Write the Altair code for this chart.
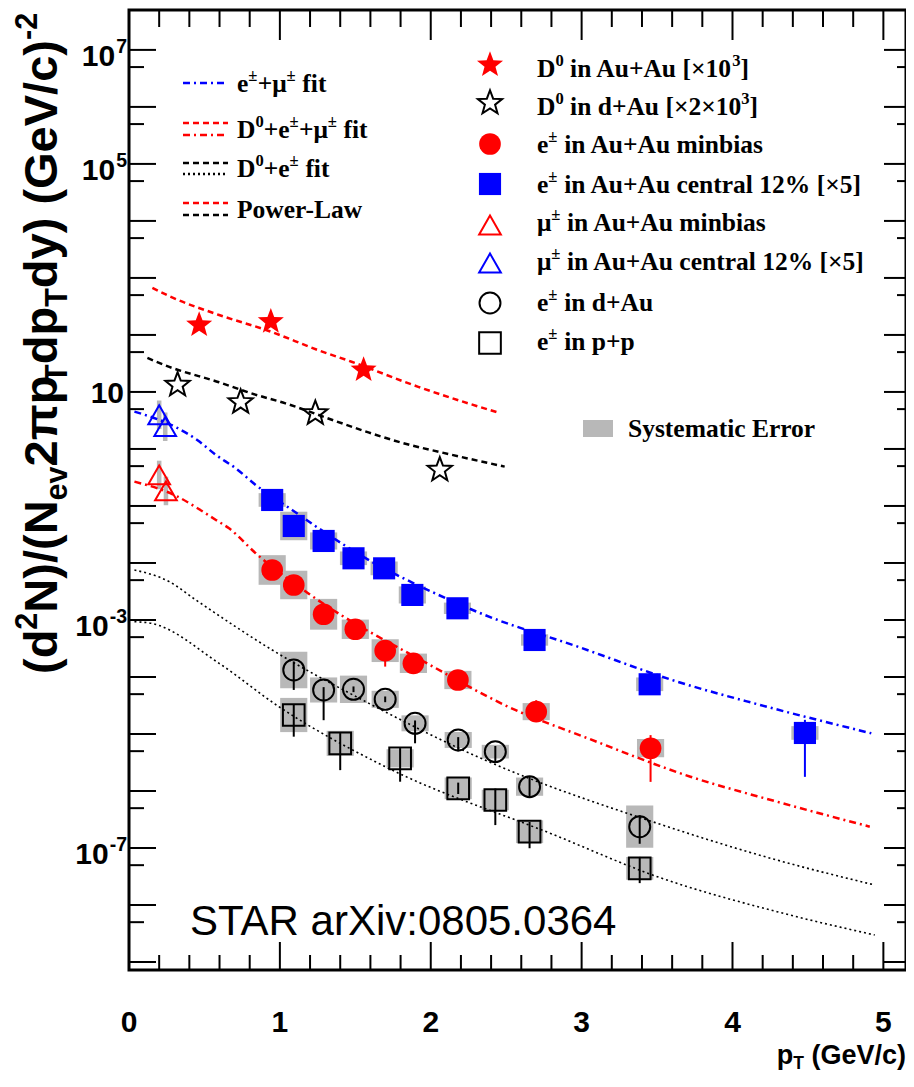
import re
import math
import altair as alt
import pandas as pd

# ---------------- data (y stored as log10) ----------------
d0_auau_pt = [0.465, 0.94, 1.555]
d0_auau_lg = [2.175, 2.234, 1.386]

d0_dau_pt = [0.322, 0.74, 1.235, 2.06]
d0_dau_lg = [1.123, 0.82, 0.626, -0.368]

mu_cen_pt = [0.20, 0.24]
mu_cen_lg = [0.60, 0.39]
mu_cen_sys = [0.25, 0.25]

mu_mb_pt = [0.20, 0.245]
mu_mb_lg = [-0.456, -0.737]
mu_mb_sys = [0.25, 0.25]

e_mb_pt = [0.949, 1.092, 1.29, 1.5, 1.698, 1.885, 2.18, 2.699, 3.457]
e_mb_lg = [-2.123, -2.386, -2.9, -3.163, -3.538, -3.76, -4.053, -4.608, -5.25]
e_mb_lo = [0.03, 0.03, 0.04, 0.05, 0.28, 0.05, 0.06, 0.17, 0.59]
e_mb_hi = [0.03, 0.03, 0.04, 0.05, 0.08, 0.05, 0.06, 0.20, 0.23]
e_mb_sys = [0.26, 0.25, 0.27, 0.17, 0.20, 0.17, 0.16, 0.15, 0.16]

e_cen_pt = [0.949, 1.092, 1.29, 1.488, 1.691, 1.878, 2.177, 2.688, 3.451, 4.48]
e_cen_lg = [-0.895, -1.351, -1.614, -1.918, -2.094, -2.561, -2.795, -3.351, -4.128, -4.982]
e_cen_lo = [0.02, 0.02, 0.03, 0.03, 0.03, 0.04, 0.04, 0.06, 0.08, 0.77]
e_cen_hi = [0.02, 0.02, 0.03, 0.03, 0.03, 0.20, 0.04, 0.10, 0.20, 0.23]
e_cen_sys = [0.12, 0.25, 0.15, 0.12, 0.12, 0.15, 0.10, 0.10, 0.12, 0.12]

e_dau_pt = [1.092, 1.29, 1.488, 1.698, 1.896, 2.182, 2.428, 2.655, 3.385]
e_dau_lg = [-3.877, -4.228, -4.216, -4.392, -4.813, -5.105, -5.31, -5.924, -6.626]
e_dau_lo = [0.35, 0.53, 0.05, 0.05, 0.35, 0.20, 0.20, 0.18, 0.30]
e_dau_hi = [0.15, 0.05, 0.05, 0.05, 0.05, 0.05, 0.10, 0.17, 0.20]
e_dau_sys = [0.32, 0.22, 0.24, 0.15, 0.14, 0.14, 0.12, 0.16, 0.37]

e_pp_pt = [1.092, 1.4, 1.797, 2.182, 2.428, 2.655, 3.385]
e_pp_lg = [-4.667, -5.164, -5.427, -5.953, -6.158, -6.714, -7.356]
e_pp_lo = [0.38, 0.47, 0.41, 0.10, 0.44, 0.29, 0.26]
e_pp_hi = [0.18, 0.18, 0.18, 0.10, 0.20, 0.17, 0.20]
e_pp_sys = [0.30, 0.22, 0.16, 0.19, 0.18, 0.20, 0.20]

# fit curves
fit_d0auau_pt = [0.155, 0.267, 0.597, 0.927, 1.257, 1.475, 1.917, 2.248, 2.445]
fit_d0auau_lg = [2.825, 2.68, 2.35, 2.07, 1.73, 1.53, 1.09, 0.80, 0.64]

fit_d0dau_pt = [0.122, 0.267, 0.597, 0.817, 1.037, 1.368, 1.587, 1.807, 2.136, 2.49]
fit_d0dau_lg = [1.596, 1.44, 1.17, 0.97, 0.80, 0.49, 0.29, 0.11, -0.10, -0.31]

fit_blue_pt = [0.036, 0.32, 0.452, 0.576, 0.707, 0.84, 1.081, 1.257, 1.609, 2.005, 2.358, 2.974, 3.634, 4.184, 4.92]
fit_blue_lg = [0.655, 0.368, 0.158, -0.105, -0.339, -0.632, -1.07, -1.392, -1.977, -2.503, -2.912, -3.468, -4.082, -4.491, -4.988]

fit_red_pt = [0.036, 0.322, 0.454, 0.576, 0.663, 0.84, 1.203, 1.995, 2.512, 3.04, 3.721, 4.294, 4.91]
fit_red_lg = [-0.573, -0.836, -1.04, -1.245, -1.392, -1.83, -2.561, -3.789, -4.52, -5.075, -5.749, -6.187, -6.626]

fit_dau_pt = [0.036, 0.267, 0.443, 0.949, 1.587, 2.358, 3.502, 4.294, 4.943]
fit_dau_lg = [-2.123, -2.328, -2.649, -3.526, -4.458, -5.456, -6.567, -7.211, -7.649]

fit_pp_pt = [0.036, 0.147, 0.597, 0.993, 1.698, 2.82, 3.502, 4.294, 4.943]
fit_pp_lg = [-3.03, -3.058, -3.76, -4.52, -5.573, -6.772, -7.503, -8.117, -8.526]

# axis ticks
y_major = [10.0 ** k for k in range(-9, 8)]
y_minor = [5 * 10.0 ** k for k in range(-9, 7)]
y_labels = [(7, "10^{7}"), (5, "10^{5}"), (-3, "10^{-3}"), (-7, "10^{-7}")]
x_major = [1, 2, 3, 4, 5]
x_minor = [round(0.2 * i, 1) for i in range(1, 26) if i % 5]
x_labels = [0, 1, 2, 3, 4, 5]

legend_right = [
    "D^{0} in Au+Au [×10^{3}]",
    "D^{0} in d+Au [×2×10^{3}]",
    "e^{±} in Au+Au minbias",
    "e^{±} in Au+Au central 12% [×5]",
    "μ^{±} in Au+Au minbias",
    "μ^{±} in Au+Au central 12% [×5]",
    "e^{±} in d+Au",
    "e^{±} in p+p",
]
legend_left = ["e^{±}+μ^{±} fit", "D^{0}+e^{±}+μ^{±} fit", "D^{0}+e^{±} fit", "Power-Law"]

# ---------------- styling / layout ----------------
RED, BLUE, GRAY = "#ff0000", "#0000ff", "#b8b8b8"
W, H = 777, 960
xsc = alt.Scale(domain=[0, 5.15], nice=False, zero=False)
ysc = alt.Scale(type="log", domain=[10 ** -9.14, 10 ** 7.70], nice=False)
X = alt.X("pT:Q", scale=xsc, axis=None)
Y = alt.Y("y:Q", scale=ysc, axis=None)
ONE = pd.DataFrame({"a": [0]})

# five-pointed star symbol path (unit box)
_sp = []
for i in range(10):
    r = 1.0 if i % 2 == 0 else 0.42
    a = math.radians(-90 + 36 * i)
    _sp.append(f"{r * math.cos(a):.3f},{r * math.sin(a):.3f}")
STAR = "M" + " L".join(_sp) + " Z"

TIMES_B = {" ": 250, "+": 570, "-": 333, "[": 333, "]": 333, "%": 1000, "×": 570, "±": 570, "μ": 556,
           "A": 722, "D": 722, "E": 667, "L": 667, "P": 611, "S": 556, "a": 500, "b": 556, "c": 444,
           "d": 556, "e": 444, "f": 333, "i": 278, "l": 278, "m": 833, "n": 556, "o": 500, "p": 556,
           "r": 444, "s": 389, "t": 333, "u": 556, "w": 722, "y": 500}
TIMES_B.update({str(d): 500 for d in range(10)})
ARIAL_B = {" ": 278, "(": 333, ")": 333, "/": 278, "-": 333, "G": 778, "N": 722, "T": 611, "V": 667,
           "c": 556, "d": 611, "e": 556, "p": 611, "v": 556, "y": 556, "π": 610}
ARIAL_B.update({str(d): 556 for d in range(10)})
SANS = "Liberation Sans, Arial, sans-serif"
SERIF = "Liberation Serif, Times New Roman, serif"


def parse(markup):
    out = []
    for m in re.finditer(r"\^\{([^}]*)\}|_\{([^}]*)\}|([^\^_]+)", markup):
        if m.group(1) is not None:
            out.append((m.group(1), "sup"))
        elif m.group(2) is not None:
            out.append((m.group(2), "sub"))
        else:
            out.append((m.group(3), "n"))
    return out


def tw(text, fs, table):
    return sum(table.get(c, 556) for c in text) / 1000.0 * fs


def rich(markup, x, y, fs, table, rot=False, ss=0.65, rise=0.42, drop=0.22):
    rows, pos = [], 0.0
    for text, kind in parse(markup):
        s = fs if kind == "n" else fs * ss
        off = 0.0 if kind == "n" else (-rise * fs if kind == "sup" else drop * fs)
        stripped = text.lstrip(" ")
        lead = tw(text[: len(text) - len(stripped)], s, table)
        if stripped:
            if rot:
                rows.append({"px": x + off, "py": y - pos - lead, "t": stripped, "fs": s})
            else:
                rows.append({"px": x + pos + lead, "py": y + off, "t": stripped, "fs": s})
        pos += tw(text, s, table)
    return rows


def text_layer(rows, font, weight, angle=0):
    df = pd.DataFrame(rows)
    return alt.Chart(df).mark_text(font=font, fontWeight=weight, align="left", baseline="alphabetic",
                                   angle=angle, color="black").encode(
        x=alt.X("px:Q", scale=None, axis=None), y=alt.Y("py:Q", scale=None, axis=None),
        text="t:N", size=alt.Size("fs:Q", scale=None, legend=None))


def marker(data, shape, color, filled, size):
    if filled:
        return alt.Chart(data).mark_point(shape=shape, filled=True, color=color, size=size, opacity=1)
    return alt.Chart(data).mark_point(shape=shape, filled=False, color=color, size=size, opacity=1,
                                      strokeWidth=2)


def pts(pt, lg, shape, color, filled, size):
    df = pd.DataFrame({"pT": pt, "y": [10 ** v for v in lg]})
    return marker(df, shape, color, filled, size).encode(x=X, y=Y)


def errs(pt, lg, lo, hi, color):
    df = pd.DataFrame({"pT": pt, "y": [10 ** (v - a) for v, a in zip(lg, lo)],
                       "y2": [10 ** (v + b) for v, b in zip(lg, hi)]})
    return alt.Chart(df).mark_rule(color=color, strokeWidth=2).encode(x=X, y=Y, y2="y2:Q")


def sysbox(pt, lg, hs, hw=0.09):
    df = pd.DataFrame({"x0": [p - hw for p in pt], "x1": [p + hw for p in pt],
                       "y0": [10 ** (v - h) for v, h in zip(lg, hs)],
                       "y1": [10 ** (v + h) for v, h in zip(lg, hs)]})
    return alt.Chart(df).mark_rect(color=GRAY).encode(
        x=alt.X("x0:Q", scale=xsc, axis=None), x2="x1:Q",
        y=alt.Y("y0:Q", scale=ysc, axis=None), y2="y1:Q")


def fit(pt, lg, color, dash, sw=2.5):
    df = pd.DataFrame({"pT": pt, "y": [10 ** v for v in lg]})
    return alt.Chart(df).mark_line(color=color, strokeDash=dash, strokeWidth=sw,
                                   interpolate="monotone").encode(x=X, y=Y)


DASH = [6, 4]
DASHDOT = [7, 4, 2, 4]
DOT = [2, 3]

layers = []
layers += [sysbox(e_mb_pt, e_mb_lg, e_mb_sys), sysbox(e_cen_pt, e_cen_lg, e_cen_sys),
           sysbox(e_dau_pt, e_dau_lg, e_dau_sys), sysbox(e_pp_pt, e_pp_lg, e_pp_sys),
           sysbox(mu_cen_pt, mu_cen_lg, mu_cen_sys, 0.015), sysbox(mu_mb_pt, mu_mb_lg, mu_mb_sys, 0.015)]
layers += [fit(fit_d0auau_pt, fit_d0auau_lg, RED, DASH), fit(fit_d0dau_pt, fit_d0dau_lg, "black", DASH),
           fit(fit_blue_pt, fit_blue_lg, BLUE, DASHDOT), fit(fit_red_pt, fit_red_lg, RED, DASHDOT),
           fit(fit_dau_pt, fit_dau_lg, "black", DOT, 1.6), fit(fit_pp_pt, fit_pp_lg, "black", DOT, 1.6)]
layers += [errs(e_mb_pt, e_mb_lg, e_mb_lo, e_mb_hi, RED), errs(e_cen_pt, e_cen_lg, e_cen_lo, e_cen_hi, BLUE),
           errs(e_dau_pt, e_dau_lg, e_dau_lo, e_dau_hi, "black"), errs(e_pp_pt, e_pp_lg, e_pp_lo, e_pp_hi, "black")]

MK = [("d0_auau", STAR, RED, True, 750), ("d0_dau", STAR, "black", False, 650),
      ("e_mb", "circle", RED, True, 470), ("e_cen", "square", BLUE, True, 490),
      ("mu_mb", "triangle-up", RED, False, 470), ("mu_cen", "triangle-up", BLUE, False, 470),
      ("e_dau", "circle", "black", False, 440), ("e_pp", "square", "black", False, 470)]
SERIES = {"d0_auau": (d0_auau_pt, d0_auau_lg), "d0_dau": (d0_dau_pt, d0_dau_lg),
          "e_mb": (e_mb_pt, e_mb_lg), "e_cen": (e_cen_pt, e_cen_lg),
          "mu_mb": (mu_mb_pt, mu_mb_lg), "mu_cen": (mu_cen_pt, mu_cen_lg),
          "e_dau": (e_dau_pt, e_dau_lg), "e_pp": (e_pp_pt, e_pp_lg)}
for name, shape, col, filled, size in MK:
    p, l = SERIES[name]
    layers.append(pts(p, l, shape, col, filled, size))

# right legend markers
leg_mx = 361
leg_my = [55, 93, 134, 174, 215, 253, 293, 333]
leg_ty = [67, 105, 143, 183, 221, 260, 301, 340]
for (name, shape, col, filled, size), my in zip(MK, leg_my):
    layers.append(marker(ONE, shape, col, filled, size).encode(x=alt.value(leg_mx), y=alt.value(my)))

# left legend line samples
leg_lines = [(73, BLUE, DASHDOT), (113, RED, DASH), (125, RED, DASHDOT), (153, "black", DASH),
             (164, "black", DOT), (193, RED, DASH), (205, "black", DASH)]
for ly, col, dash in leg_lines:
    layers.append(alt.Chart(ONE).mark_rule(color=col, strokeDash=dash, strokeWidth=2.5).encode(
        x=alt.value(54), x2=alt.value(99), y=alt.value(ly)))
layers.append(alt.Chart(ONE).mark_rect(color=GRAY).encode(
    x=alt.value(454), x2=alt.value(484), y=alt.value(410), y2=alt.value(427)))


def yticks(vals, x0, x1):
    return alt.Chart(pd.DataFrame({"y": vals})).mark_rule(color="black", strokeWidth=2).encode(
        y=Y, x=alt.value(x0), x2=alt.value(x1))


def xticks(vals, y0, y1):
    return alt.Chart(pd.DataFrame({"pT": vals})).mark_rule(color="black", strokeWidth=2).encode(
        x=X, y=alt.value(y0), y2=alt.value(y1))


layers += [yticks(y_major, 0, 27), yticks(y_minor, 0, 15), yticks(y_major, W - 22, W), yticks(y_minor, W - 9, W),
           xticks(x_major, H - 28, H), xticks(x_minor, H - 15, H), xticks(x_major, 0, 30), xticks(x_minor, 0, 17)]

# texts
LEG_FS = 25.5
rows = []
for s, ty in zip(legend_right, leg_ty):
    rows += rich(s, 408, ty, LEG_FS, TIMES_B)
for s, ty in zip(legend_left, [82, 128, 167, 208]):
    rows += rich(s, 108, ty, LEG_FS, TIMES_B)
rows += rich("Systematic Error", 499, 427, LEG_FS, TIMES_B)
layers.append(text_layer(rows, SERIF, "bold"))

layers.append(text_layer([{"px": 61, "py": 925, "t": "STAR arXiv:0805.0364", "fs": 42}], SANS, "normal"))

AX_FS = 30
XT_FS = 27
xt = "p_{T} (GeV/c)"
xw = sum(tw(t, XT_FS if k == "n" else XT_FS * 0.65, ARIAL_B) for t, k in parse(xt))
layers.append(text_layer(rich(xt, W - xw, 1054, XT_FS, ARIAL_B, drop=0.18), SANS, "bold"))
layers.append(text_layer(rich("(d^{2}N)/(N_{ev}2πp_{T}dp_{T}dy) (GeV/c)^{-2}", -72, 664, 47, ARIAL_B, rot=True),
                         SANS, "bold", angle=270))

xl = pd.DataFrame({"pT": x_labels, "t": [str(v) for v in x_labels]})
layers.append(alt.Chart(xl).mark_text(font=SANS, fontWeight="bold", fontSize=AX_FS, align="center",
                                      baseline="alphabetic").encode(x=X, y=alt.value(1022), text="t:N"))

R = -3
base_rows, exp_rows = [], []
for k, lab in y_labels:
    (b, _), (e, _) = parse(lab)
    ew = tw(e, AX_FS * 0.65, ARIAL_B)
    base_rows.append({"y": 10.0 ** k, "px": R - ew, "t": b})
    exp_rows.append({"y": 10.0 ** k, "px": R - ew + 1, "t": e})
layers.append(alt.Chart(pd.DataFrame(base_rows)).mark_text(
    font=SANS, fontWeight="bold", fontSize=AX_FS, align="right",
    baseline="alphabetic", dy=16).encode(x=alt.X("px:Q", scale=None, axis=None), y=Y, text="t:N"))
layers.append(alt.Chart(pd.DataFrame(exp_rows)).mark_text(
    font=SANS, fontWeight="bold", fontSize=AX_FS * 0.65, align="left",
    baseline="alphabetic", dy=3).encode(x=alt.X("px:Q", scale=None, axis=None), y=Y, text="t:N"))
layers.append(alt.Chart(pd.DataFrame({"y": [10.0], "t": ["10"]})).mark_text(
    font=SANS, fontWeight="bold", fontSize=AX_FS, align="right",
    baseline="alphabetic", dy=11).encode(x=alt.value(-5), y=Y, text="t:N"))

chart = alt.layer(*layers).properties(
    width=W, height=H,
    padding={"left": 121, "top": 2, "right": 0, "bottom": 104},
    autosize=alt.AutoSizeParams(type="none"),
    background="white",
).configure_view(stroke="black", strokeWidth=3)

chart.save("out.html", embed_options={"renderer": "svg", "actions": False})
